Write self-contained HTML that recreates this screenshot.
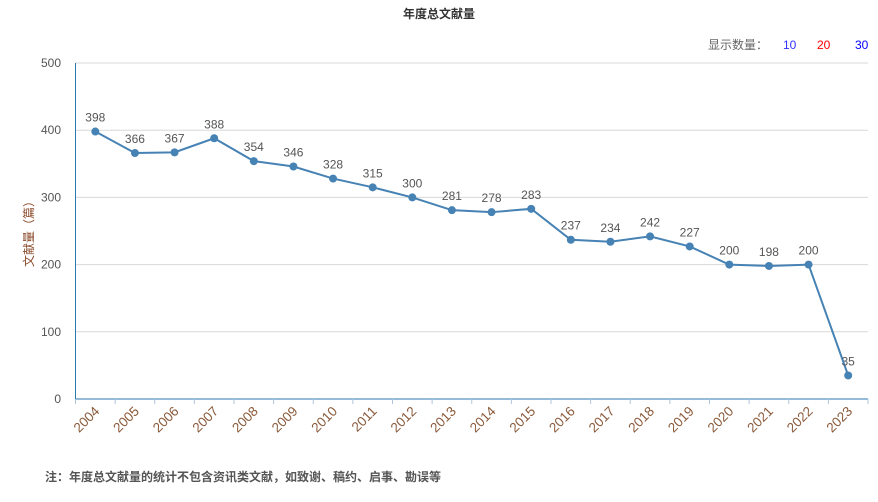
<!DOCTYPE html>
<html><head><meta charset="utf-8"><style>
body{margin:0;background:#fff;font-family:"Liberation Sans","Noto Sans CJK SC",sans-serif}
svg text{font-family:"Liberation Sans","Noto Sans CJK SC",sans-serif}
</style></head><body>
<svg id="c" width="878" height="497">
<text x="439" y="18" text-anchor="middle" font-size="12" font-weight="bold" fill="#333">年度总文献量</text>
<text x="708" y="49" font-size="12" fill="#666">显示数量：</text>
<text x="783" y="49" font-size="12" fill="#3333ff">10</text>
<text x="817" y="49" font-size="12" fill="#ff0000">20</text>
<text x="855" y="49" font-size="12" fill="#0000ff">30</text>
<text transform="translate(33,231) rotate(-90)" text-anchor="middle" font-size="12" fill="#8a4a2a">文献量（篇）</text>
<text x="45" y="481" font-size="12" font-weight="bold" fill="#555">注：年度总文献量的统计不包含资讯类文献，如致谢、稿约、启事、勘误等</text>
<g id="g"></g>
</svg>
<script>
const categories=["2004","2005","2006","2007","2008","2009","2010","2011","2012","2013","2014","2015","2016","2017","2018","2019","2020","2021","2022","2023"];
const values=[398,366,367,388,354,346,328,315,300,281,278,283,237,234,242,227,200,198,200,35];
const yTicks=[0,100,200,300,400,500];
const NS="http://www.w3.org/2000/svg";
const g=document.getElementById('g');
const L=75.5,R=868,T=63,B=399,yMax=500;
const bw=(R-L)/categories.length;
const x=i=>L+bw*(i+0.5);
const y=v=>B-(v/yMax)*(B-T);
function mk(t,a){const e=document.createElementNS(NS,t);for(const k in a)e.setAttribute(k,a[k]);g.appendChild(e);return e;}
yTicks.forEach(v=>{
 if(v>0){const l=mk('line',{x1:L,x2:R,y1:y(v),y2:y(v),stroke:'#d8d8d8'});
 
 }
 const t=mk('text',{x:61,y:y(v)+4,'text-anchor':'end','font-size':12,fill:'#555'});t.textContent=v;
 
 
});
const ax=mk('line',{x1:L,x2:L,y1:T,y2:B,stroke:'#2a7ab0'});


const bx=mk('line',{x1:L,x2:R,y1:B,y2:B,stroke:'#2a7ab0'});


for(let i=0;i<=categories.length;i++){const tk=mk('line',{x1:L+bw*i,x2:L+bw*i,y1:B,y2:B+5,stroke:'#b0c4de'});
 
 }
categories.forEach((c,i)=>{
 const t=mk('text',{transform:`translate(${x(i)+5},${B+13}) rotate(-45)`,'text-anchor':'end','font-size':13.5,fill:'#8a5a3a'});
 t.textContent=c;
 
 
});
const pl=mk('polyline',{points:values.map((v,i)=>x(i)+','+y(v)).join(' '),fill:'none',stroke:'#4682b4','stroke-width':2});


values.forEach((v,i)=>{
 const p=mk('circle',{cx:x(i),cy:y(v),r:4,fill:'#4682b4'});
 
 
 const t=mk('text',{x:x(i),y:y(v)-10,'text-anchor':'middle','font-size':12,fill:'#555'});
 t.textContent=v;
 
 
});
</script>
</body></html>
